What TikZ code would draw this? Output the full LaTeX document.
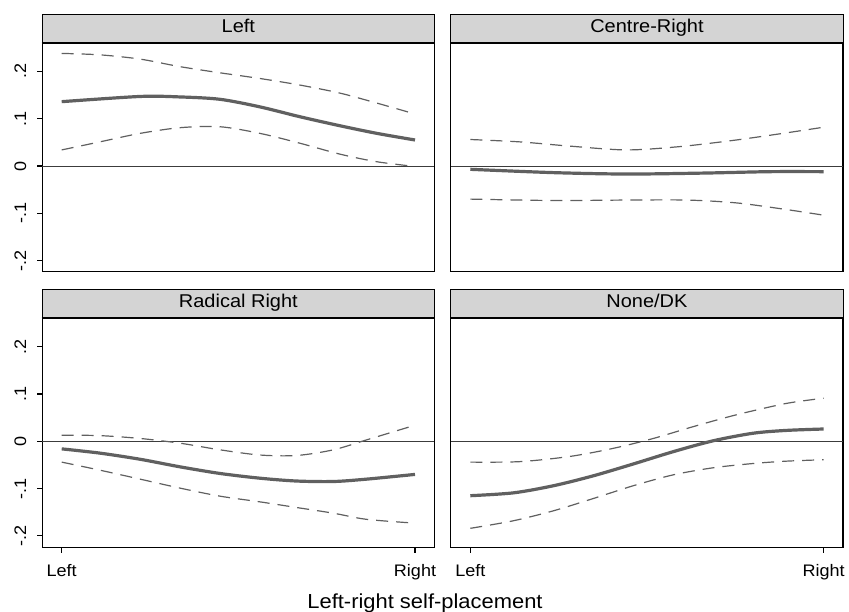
\documentclass[tikz,border=0pt]{standalone}
\usepackage{fontspec}
\setmainfont{Liberation Sans}[FakeStretch=1.08]
\usetikzlibrary{arrows}

\definecolor{stripgray}{RGB}{212,212,212}
\definecolor{linegray}{RGB}{96,96,96}
\definecolor{zerogray}{RGB}{60,60,60}
\newcommand{\stripfont}{\fontsize{18.5}{22}\selectfont}
\newcommand{\tickfont}{\fontsize{16.7}{20}\selectfont}
\newcommand{\axtitlefont}{\fontsize{20.3}{24}\selectfont}

\begin{document}
\begin{tikzpicture}[x=1pt,y=1pt]
\useasboundingbox (0,0) rectangle (849,611);
    \tikzstyle{panel}=[x=353.3pt, y=473pt]
    \tikzstyle{frame}=[draw=black, line width=1.1pt]
    \tikzstyle{strip}=[draw=black, line width=1.1pt, fill=stripgray, inner sep=0pt,
      minimum width=392.2pt, minimum height=27.8pt, text height=13.6pt, text depth=4.6pt, font=\stripfont]
    \tikzstyle{zeroline}=[draw=zerogray, line width=0.9pt]
    \tikzstyle{estline}=[draw=linegray, line width=3.2pt, line join=round]
    \tikzstyle{ciline}=[draw=linegray, line width=1.2pt, dash pattern=on 12pt off 8pt]
    \tikzstyle{ylab}=[rotate=90, anchor=base, inner sep=0pt, font=\tickfont]
    \tikzstyle{xlab}=[anchor=base, inner sep=0pt, font=\tickfont]
%panel 1: Left
\begin{scope}[panel, shift={(61.7pt,445pt)}]
  \draw[frame] (-0.055,-0.224) rectangle (1.055,0.262);
  \node[strip] (tleft) at (0.5,0.2914) {Left};
  \draw[line width=2pt] (tleft.south west) -- (tleft.south east);
  \draw[zeroline] (-0.055,0) -- (1.055,0);
  \foreach \v [count=\i] in {-.2,-.1,0,.1,.2} {
    \draw[frame] (-0.055,\v) -- ++(-5pt,0);
    \node[ylab] (yla\i) at (-0.101,\v) {\v};
  }
  \draw[ciline] plot[smooth] coordinates {(0,.238) (.108,.235) (.222,.226) (.335,.210) (.448,.197)
    (.561,.185) (.675,.171) (.788,.154) (.892,.133) (1,.110)};
  \draw[estline] plot[smooth] coordinates {(0,.136) (.222,.147) (.335,.146) (.448,.141)
    (.561,.125) (.675,.104) (.788,.085) (.892,.069) (1,.055)};
  \draw[ciline] plot[smooth] coordinates {(0,.034) (.108,.051) (.222,.069) (.335,.081) (.448,.083)
    (.561,.069) (.675,.048) (.788,.025) (.892,.009) (1,-.001)};
\end{scope}
%panel 2: Centre-Right
\begin{scope}[panel, shift={(470.3pt,445pt)}]
  \draw[frame] (-0.055,-0.224) rectangle (1.055,0.262);
  \node[strip] (tcentre) at (0.5,0.2914) {Centre-Right};
  \draw[line width=2pt] (tcentre.south west) -- (tcentre.south east);
  \draw[zeroline] (-0.055,0) -- (1.055,0);
  \draw[ciline] plot[smooth] coordinates {(0,.056) (.140,.051) (.282,.042) (.442,.034) (.593,.041)
    (.753,.055) (.894,.070) (1,.082)};
  \draw[estline] plot[smooth] coordinates {(0,-.007) (.235,-.014) (.442,-.017) (.659,-.015)
    (.847,-.012) (1,-.012)};
  \draw[ciline] plot[smooth] coordinates {(0,-.070) (.235,-.073) (.442,-.072) (.612,-.072)
    (.753,-.078) (.894,-.092) (1,-.104)};
\end{scope}
%panel 3: Radical Right
\begin{scope}[panel, shift={(61.7pt,169.7pt)}]
  \draw[frame] (-0.055,-0.224) rectangle (1.055,0.262);
  \node[strip] (tradical) at (0.5,0.2914) {Radical Right};
  \draw[line width=2pt] (tradical.south west) -- (tradical.south east);
  \draw[zeroline] (-0.055,0) -- (1.055,0);
  \foreach \v [count=\i] in {-.2,-.1,0,.1,.2} {
    \draw[frame] (-0.055,\v) -- ++(-5pt,0);
    \node[ylab] (ylc\i) at (-0.101,\v) {\v};
  }
  \draw[frame] (0,-0.224) -- ++(0,-6pt);
  \draw[frame] (1,-0.224) -- ++(0,-6pt);
  \node[xlab] (xlc1) at (0,-0.2863) {Left};
  \node[xlab] (xlc2) at (1,-0.2863) {Right};
  \draw[ciline] plot[smooth] coordinates {(0,.013) (.108,.012) (.222,.006) (.335,-.004) (.448,-.018)
    (.561,-.029) (.665,-.030) (.769,-.018) (.863,.003) (1,.034)};
  \draw[estline] plot[smooth] coordinates {(0,-.016) (.108,-.025) (.222,-.038) (.335,-.054)
    (.448,-.068) (.561,-.078) (.665,-.084) (.769,-.085) (.863,-.080) (1,-.070)};
  \draw[ciline] plot[smooth] coordinates {(0,-.044) (.108,-.061) (.222,-.080) (.335,-.099)
    (.448,-.116) (.561,-.128) (.665,-.140) (.769,-.152) (.863,-.165) (1,-.173)};
\end{scope}
%panel 4: None/DK
\begin{scope}[panel, shift={(470.3pt,169.7pt)}]
  \draw[frame] (-0.055,-0.224) rectangle (1.055,0.262);
  \node[strip] (tnone) at (0.5,0.2914) {None/DK};
  \draw[line width=2pt] (tnone.south west) -- (tnone.south east);
  \draw[zeroline] (-0.055,0) -- (1.055,0);
  \draw[frame] (0,-0.224) -- ++(0,-6pt);
  \draw[frame] (1,-0.224) -- ++(0,-6pt);
  \node[xlab] (xld1) at (0,-0.2863) {Left};
  \node[xlab] (xld2) at (1,-0.2863) {Right};
  \draw[ciline] plot[smooth] coordinates {(0,-.044) (.140,-.043) (.282,-.032) (.404,-.015)
    (.518,.006) (.631,.031) (.753,.056) (.894,.080) (1,.091)};
  \draw[estline] plot[smooth] coordinates {(0,-.115) (.122,-.109) (.235,-.094) (.348,-.073)
    (.461,-.048) (.574,-.022) (.687,.001) (.800,.017) (.894,.023) (1,.026)};
  \draw[ciline] plot[smooth] coordinates {(0,-.184) (.122,-.168) (.235,-.147) (.348,-.121)
    (.461,-.094) (.574,-.071) (.687,-.056) (.800,-.047) (.894,-.042) (1,-.039)};
\end{scope}
%axis title
\node[anchor=base, inner sep=0pt, font=\axtitlefont] (xtitle) at (425,3) {Left-right self-placement};
\end{tikzpicture}
\end{document}
